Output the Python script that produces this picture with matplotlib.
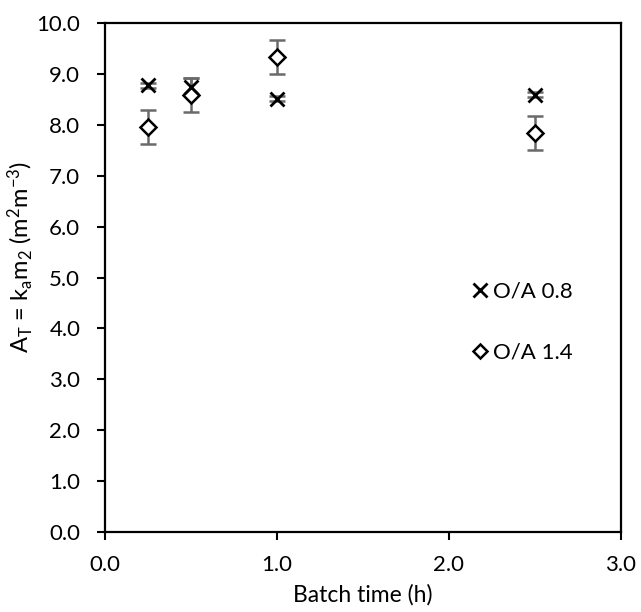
import matplotlib
matplotlib.use("Agg")
import matplotlib.pyplot as plt

plt.rcParams['font.family'] = ['Lato', 'DejaVu Sans']
plt.rcParams['mathtext.default'] = 'regular'

batch_time = [0.25, 0.5, 1.0, 2.5]
oa08 = [8.78, 8.75, 8.51, 8.59]
oa08_err = [0.05, 0.17, 0.05, 0.05]
oa14 = [7.96, 8.59, 9.33, 7.84]
oa14_err = [0.34, 0.33, 0.33, 0.33]

fig = plt.figure(figsize=(6.41, 6.12), dpi=100)
ax = fig.add_axes([105/641, 80/612, 516/641, 509/612])

err_col = '#6a6a6a'
ax.errorbar(batch_time, oa14, yerr=oa14_err, fmt='none', ecolor=err_col,
            elinewidth=1.8, capsize=5.5, capthick=1.8, zorder=2)
ax.errorbar(batch_time, oa08, yerr=oa08_err, fmt='none', ecolor=err_col,
            elinewidth=1.8, capsize=5.5, capthick=1.8, zorder=2)
ax.plot(batch_time, oa14, linestyle='none', marker='D', markersize=8,
        markerfacecolor='white', markeredgecolor='black', markeredgewidth=1.8,
        label='O/A 1.4', zorder=3)
ax.plot(batch_time, oa08, linestyle='none', marker='x', markersize=10,
        color='black', markeredgewidth=2.0, label='O/A 0.8', zorder=4)

ax.set_xlim(0, 3.0)
ax.set_ylim(0, 10.0)
ax.set_xticks([0.0, 1.0, 2.0, 3.0])
ax.set_yticks([i * 1.0 for i in range(11)])
ax.set_xticklabels(['0.0', '1.0', '2.0', '3.0'])
ax.set_yticklabels(['%.1f' % (i * 1.0) for i in range(11)])
ax.tick_params(direction='out', length=5.8, width=1.5, labelsize=16)
ax.tick_params(axis='y', pad=12)
ax.tick_params(axis='x', pad=11)
for s in ax.spines.values():
    s.set_linewidth(1.6)

ax.set_xlabel('Batch time (h)', fontsize=16.5, labelpad=6)
ax.set_ylabel(r'A$_{T}$ = k$_{a}$m$_{2}$ (m$^{2}$m$^{-3}$)', fontsize=17)
ax.yaxis.set_label_coords(-0.135, 0.54)

h, l = ax.get_legend_handles_labels()
leg = ax.legend([h[1], h[0]], [l[1], l[0]], frameon=False, loc='center left',
                bbox_to_anchor=(0.672, 0.412), fontsize=16, handlelength=0.7,
                handletextpad=0.25, labelspacing=1.85, markerscale=0.95)

fig.savefig('out.png', dpi=100)
